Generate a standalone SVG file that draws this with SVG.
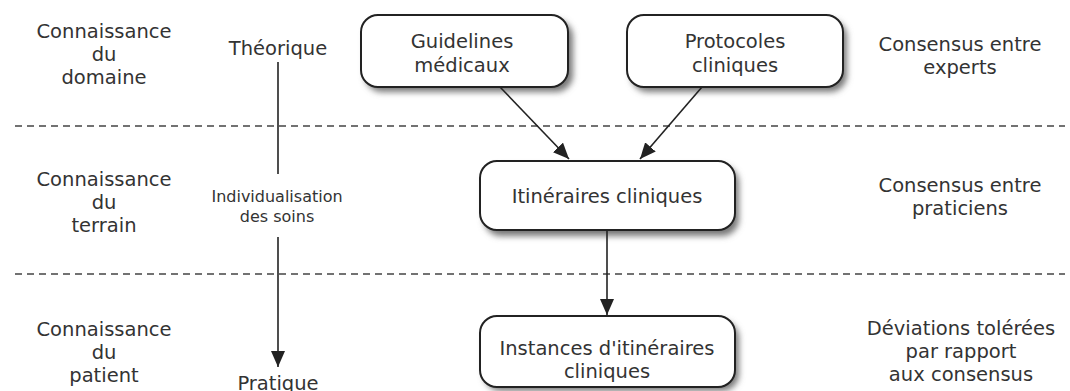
<svg xmlns="http://www.w3.org/2000/svg" width="1070" height="391" viewBox="0 0 1070 391">
  <defs>
    <style>
      text { font-family: "DejaVu Sans", Verdana, sans-serif; fill: #333; text-anchor: middle; }
      .lbl { font-size: 19.5px; }
      .small { font-size: 16px; }
      .box { fill: #fff; stroke: #222; stroke-width: 2; }
      .shadow { fill: #777; filter: url(#blur); }
      .sep { stroke: #444; stroke-width: 1.5; stroke-dasharray: 7 5; fill: none; }
      .edge { stroke: #222; stroke-width: 1.6; fill: none; }
    </style>
    <filter id="blur" x="-10%" y="-20%" width="130%" height="150%">
      <feGaussianBlur stdDeviation="3"/>
    </filter>
    <marker id="arrow" viewBox="0 0 16 14" refX="16" refY="7" markerWidth="16" markerHeight="14" markerUnits="userSpaceOnUse" orient="auto">
      <path d="M0,0 L16,7 L0,14 z" fill="#222"/>
    </marker>
  </defs>

  <!-- background -->
  <rect width="1070" height="391" fill="#fff"/>

  <!-- level separators -->
  <g id="separators">
    <line class="sep" x1="15" y1="126" x2="1065" y2="126"/>
    <line class="sep" x1="15" y1="274" x2="1065" y2="274"/>
  </g>

  <!-- left column: knowledge levels -->
  <g id="level-domaine">
    <text class="lbl" x="104" y="38">Connaissance</text>
    <text class="lbl" x="104" y="61">du</text>
    <text class="lbl" x="104" y="84">domaine</text>
  </g>
  <g id="level-terrain">
    <text class="lbl" x="104" y="186">Connaissance</text>
    <text class="lbl" x="104" y="209">du</text>
    <text class="lbl" x="104" y="232">terrain</text>
  </g>
  <g id="level-patient">
    <text class="lbl" x="104" y="336">Connaissance</text>
    <text class="lbl" x="104" y="359">du</text>
    <text class="lbl" x="104" y="382">patient</text>
  </g>

  <!-- theory to practice axis -->
  <g id="axis">
    <text class="lbl" x="278" y="55">Théorique</text>
    <text class="small" x="277" y="202">Individualisation</text>
    <text class="small" x="277" y="222">des soins</text>
    <text class="lbl" x="278" y="390">Pratique</text>
  </g>

  <!-- nodes -->
  <g id="guidelines">
    <rect class="shadow" x="365" y="20" width="208" height="72" rx="17"/>
    <rect class="box" x="361" y="15" width="207" height="72" rx="17"/>
    <text class="lbl" x="462" y="48">Guidelines</text>
    <text class="lbl" x="462" y="72">médicaux</text>
  </g>
  <g id="protocoles">
    <rect class="shadow" x="631" y="20" width="216" height="72" rx="17"/>
    <rect class="box" x="627" y="15" width="216" height="72" rx="17"/>
    <text class="lbl" x="735" y="48">Protocoles</text>
    <text class="lbl" x="735" y="72">cliniques</text>
  </g>
  <g id="itineraires">
    <rect class="shadow" x="484" y="166" width="255" height="70" rx="17"/>
    <rect class="box" x="480" y="161" width="255" height="69" rx="17"/>
    <text class="lbl" x="607" y="203">Itinéraires cliniques</text>
  </g>
  <g id="instances">
    <rect class="shadow" x="484" y="321" width="255" height="70" rx="17"/>
    <rect class="box" x="480" y="316" width="255" height="71" rx="17"/>
    <text class="lbl" x="607" y="355">Instances d'itinéraires</text>
    <text class="lbl" x="607" y="378">cliniques</text>
  </g>

  <!-- right column: consensus levels -->
  <g id="consensus-experts">
    <text class="lbl" x="960" y="51">Consensus entre</text>
    <text class="lbl" x="960" y="74">experts</text>
  </g>
  <g id="consensus-praticiens">
    <text class="lbl" x="960" y="192">Consensus entre</text>
    <text class="lbl" x="960" y="215">praticiens</text>
  </g>
  <g id="deviations">
    <text class="lbl" x="961" y="335">Déviations tolérées</text>
    <text class="lbl" x="961" y="358">par rapport</text>
    <text class="lbl" x="961" y="381">aux consensus</text>
  </g>

  <!-- connectors -->
  <g id="connectors">
    <line class="edge" x1="278" y1="62" x2="278" y2="174"/>
    <line class="edge" x1="278" y1="237" x2="278" y2="367" marker-end="url(#arrow)"/>
    <line class="edge" x1="500" y1="87" x2="569" y2="159" marker-end="url(#arrow)"/>
    <line class="edge" x1="702" y1="87" x2="640" y2="159" marker-end="url(#arrow)"/>
    <line class="edge" x1="607" y1="230" x2="607" y2="315" marker-end="url(#arrow)"/>
  </g>
</svg>
